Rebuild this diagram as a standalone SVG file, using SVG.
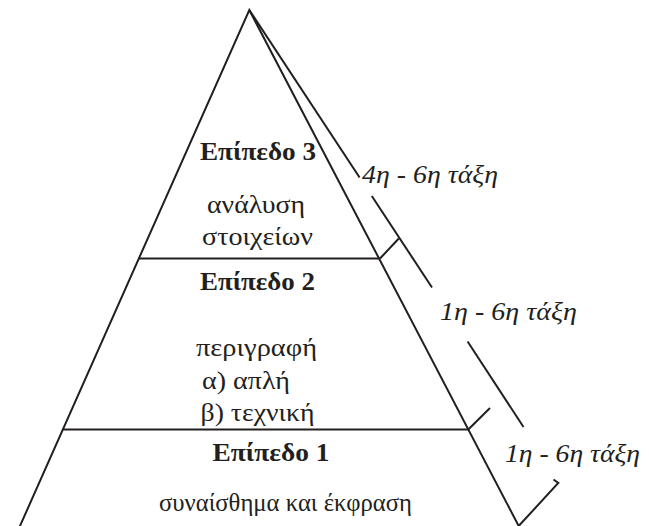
<svg xmlns="http://www.w3.org/2000/svg" width="649" height="526" viewBox="0 0 649 526">
<style>
.ln{stroke:#231f20;stroke-width:2;fill:none;stroke-linecap:butt;stroke-linejoin:miter}
.t{font-family:"Liberation Serif","DejaVu Serif",serif;fill:#231f20;font-size:26px;text-anchor:middle}
.b{font-weight:bold;font-size:25px}
.i{font-style:italic;text-anchor:start;font-size:25px}
</style>
<rect width="649" height="526" fill="#ffffff"/>
<g id="pyramid">
<path class="ln" d="M18.2,530 L249.3,10 L520.8,530"/>
</g>
<g id="connectors">
<line class="ln" x1="138.8" y1="258.5" x2="380" y2="258.5"/>
<line class="ln" x1="62.8" y1="429.5" x2="468.3" y2="429.5"/>
<path class="ln" d="M249.3,10 L359.6,177.5"/>
<path class="ln" d="M371.8,196 L432,287.5"/>
<path class="ln" d="M467.6,341.5 L523.5,427"/>
<path class="ln" d="M380,258.5 L398.8,238.5"/>
<path class="ln" d="M468.3,429.5 L490,408"/>
<path class="ln" d="M518.7,526 L558.3,483 L553.5,479.5"/>
</g>
<g id="level3">
<text class="t b" x="258" y="160" textLength="116" lengthAdjust="spacingAndGlyphs">Επίπεδο 3</text>
<text class="t" x="256" y="213" textLength="98" lengthAdjust="spacingAndGlyphs">ανάλυση</text>
<text class="t" x="257.5" y="245" textLength="111" lengthAdjust="spacingAndGlyphs">στοιχείων</text>
</g>
<g id="level2">
<text class="t b" x="257.5" y="290" textLength="115" lengthAdjust="spacingAndGlyphs">Επίπεδο 2</text>
<text class="t" x="256.5" y="356" textLength="121" lengthAdjust="spacingAndGlyphs">περιγραφή</text>
<text class="t" x="246" y="389" textLength="88" lengthAdjust="spacingAndGlyphs">α) απλή</text>
<text class="t" x="257.5" y="421" textLength="114" lengthAdjust="spacingAndGlyphs">β) τεχνική</text>
</g>
<g id="level1">
<text class="t b" x="271" y="461" textLength="117" lengthAdjust="spacingAndGlyphs">Επίπεδο 1</text>
<text class="t" x="285.5" y="511" textLength="253" lengthAdjust="spacingAndGlyphs">συναίσθημα και έκφραση</text>
</g>
<g id="labels">
<text class="t i" x="362" y="183" textLength="136" lengthAdjust="spacingAndGlyphs">4η - 6η τάξη</text>
<text class="t i" x="440" y="320" textLength="137" lengthAdjust="spacingAndGlyphs">1η - 6η τάξη</text>
<text class="t i" x="505" y="462" textLength="135" lengthAdjust="spacingAndGlyphs">1η - 6η τάξη</text>
</g>
</svg>
